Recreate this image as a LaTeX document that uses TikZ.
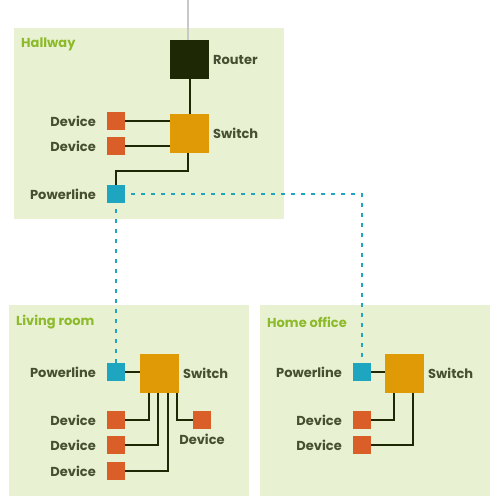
\documentclass[tikz,border=0pt]{standalone}
\usepackage{fontspec}
\setmainfont{Poppins}
\usetikzlibrary{positioning}
\definecolor{roomfill}{HTML}{E8F2D2}
\definecolor{roomtext}{HTML}{8DBA2A}
\definecolor{labeltext}{HTML}{464F32}
\definecolor{routerc}{HTML}{1F2805}
\definecolor{switchc}{HTML}{E09A05}
\definecolor{devicec}{HTML}{D95E28}
\definecolor{plc}{HTML}{1EA6C0}
\definecolor{uplinkc}{HTML}{C8C8C8}

\begin{document}
\begin{tikzpicture}[x=1pt,y=1pt,
    font=\bfseries\fontsize{13}{15}\selectfont,text=labeltext,
    box/.style={inner sep=0pt,outer sep=0pt},
    router node/.style={box,fill=routerc,minimum size=39pt},
    switch node/.style={box,fill=switchc,minimum size=39pt},
    device node/.style={box,fill=devicec,minimum size=18pt},
    pl node/.style={box,fill=plc,minimum size=18pt},
    room title/.style={anchor=west,text=roomtext,inner sep=0pt},
    wire/.style={draw=routerc,line width=2pt},
    pl link/.style={draw=plc,line width=2pt,dash pattern=on 4pt off 6pt,dash phase=-6pt},
    left label/.style={label={[inner sep=0pt,label distance=11pt]left:#1}},
    right label/.style={label={[inner sep=0pt,label distance=4pt]right:#1}}]

  \useasboundingbox (0,0) rectangle (500,500);

  % rooms
  \fill[roomfill] (14,281) rectangle (284,472);
  \fill[roomfill] (9,4) rectangle (249,195);
  \fill[roomfill] (260,4) rectangle (490,195);
  \node[room title] (hall) at (21,456) {Hallway};
  \node[room title] (living) at (16,178) {Living room};
  \node[room title] (office) at (267,178) {Home office};

  % hallway
  \node[router node,right label=Router] (rt) at (189.5,440.5) {};
  \node[switch node,right label=Switch] (hsw) at (189.5,366.5) {};
  \node[device node,left label=Device] (hd1) at (116,379) {};
  \node[device node,left label=Device] (hd2) at (116,354) {};
  \node[pl node,left label=Powerline] (hpl) at (116,306) {};
  \coordinate (up) at (188,500);

  % living room
  \node[pl node,left label=Powerline] (lpl) at (116,128) {};
  \node[switch node,right label=Switch] (lsw) at (159.5,126.5) {};
  \node[device node,left label=Device] (ld1) at (116,80) {};
  \node[device node,left label=Device] (ld2) at (116,55) {};
  \node[device node,left label=Device] (ld3) at (116,29) {};
  \node[device node,label={[inner sep=0pt,label distance=5pt]below:Device}] (ld4) at (202,80) {};

  % home office
  \node[pl node,left label=Powerline] (opl) at (362,128) {};
  \node[switch node,right label=Switch] (osw) at (404.5,126.5) {};
  \node[device node,left label=Device] (od1) at (362,80) {};
  \node[device node,left label=Device] (od2) at (362,55) {};

  % wiring
  \draw[uplinkc,line width=2pt] (up) -- (up |- rt.north);
  \draw[wire] (rt) -- (hsw);
  \draw[wire] (hd1) -- (hd1 -| hsw.west);
  \draw[wire] (hd2) -- (hd2 -| hsw.west);
  \draw[wire] ([xshift=-1.5pt]hsw.south) -- ++(0,-18) -| (hpl);

  \draw[wire] (lpl) -- (lpl -| lsw.west);
  \draw[wire] (ld1) -| ([xshift=-10.5pt]lsw.south);
  \draw[wire] (ld2) -| ([xshift=-1.5pt]lsw.south);
  \draw[wire] (ld3) -| ([xshift=8.5pt]lsw.south);
  \draw[wire] (ld4) -| ([xshift=17.5pt]lsw.south);

  \draw[wire] (opl) -- (opl -| osw.west);
  \draw[wire] (od1) -| ([xshift=-10.5pt]osw.south);
  \draw[wire] (od2) -| ([xshift=8.5pt]osw.south);

  % powerline links
  \draw[pl link] (hpl) -- (lpl);
  \draw[pl link] (hpl) -| (opl);
\end{tikzpicture}
\end{document}
